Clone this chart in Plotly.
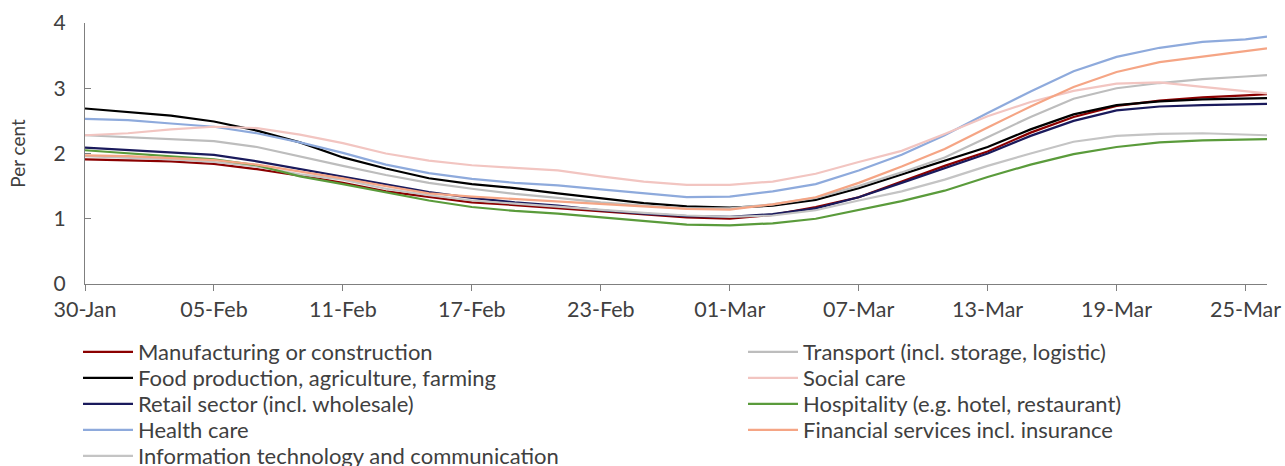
import plotly.graph_objects as go

dates = ["2022-01-30", "2022-02-01", "2022-02-03", "2022-02-05", "2022-02-07", "2022-02-09",
         "2022-02-11", "2022-02-13", "2022-02-15", "2022-02-17", "2022-02-19", "2022-02-21",
         "2022-02-23", "2022-02-25", "2022-02-27", "2022-03-01", "2022-03-03", "2022-03-05",
         "2022-03-07", "2022-03-09", "2022-03-11", "2022-03-13", "2022-03-15", "2022-03-17",
         "2022-03-19", "2022-03-21", "2022-03-23", "2022-03-25", "2022-03-26"]

manufacturing = [1.91, 1.90, 1.88, 1.84, 1.76, 1.66, 1.55, 1.42, 1.33, 1.25, 1.21, 1.16, 1.11, 1.07, 1.02,
                 1.00, 1.06, 1.18, 1.33, 1.57, 1.81, 2.03, 2.32, 2.56, 2.73, 2.81, 2.86, 2.89, 2.91]
food = [2.69, 2.63, 2.58, 2.49, 2.35, 2.17, 1.94, 1.77, 1.62, 1.53, 1.47, 1.39, 1.31, 1.24, 1.19,
        1.17, 1.20, 1.29, 1.47, 1.68, 1.90, 2.10, 2.37, 2.60, 2.74, 2.80, 2.83, 2.84, 2.85]
retail = [2.09, 2.05, 2.02, 1.98, 1.88, 1.76, 1.64, 1.52, 1.41, 1.32, 1.25, 1.20, 1.13, 1.08, 1.04,
          1.03, 1.07, 1.16, 1.33, 1.55, 1.78, 2.00, 2.27, 2.50, 2.66, 2.72, 2.74, 2.75, 2.76]
health = [2.53, 2.51, 2.46, 2.41, 2.31, 2.17, 2.01, 1.83, 1.70, 1.61, 1.55, 1.51, 1.45, 1.39, 1.33,
          1.34, 1.42, 1.53, 1.74, 1.98, 2.28, 2.62, 2.95, 3.26, 3.48, 3.62, 3.71, 3.75, 3.79]
it_comm = [1.96, 1.94, 1.91, 1.87, 1.80, 1.68, 1.60, 1.46, 1.36, 1.28, 1.23, 1.18, 1.13, 1.09, 1.05,
           1.03, 1.05, 1.13, 1.28, 1.42, 1.60, 1.81, 2.00, 2.18, 2.27, 2.30, 2.31, 2.29, 2.28]
transport = [2.28, 2.25, 2.23, 2.19, 2.10, 1.95, 1.81, 1.67, 1.55, 1.46, 1.38, 1.32, 1.25, 1.20, 1.16,
             1.16, 1.22, 1.32, 1.50, 1.71, 1.94, 2.25, 2.56, 2.84, 3.00, 3.08, 3.14, 3.18, 3.20]
social = [2.28, 2.31, 2.37, 2.41, 2.39, 2.29, 2.16, 2.00, 1.89, 1.82, 1.78, 1.74, 1.65, 1.57, 1.52,
          1.52, 1.57, 1.69, 1.87, 2.04, 2.30, 2.57, 2.79, 2.96, 3.07, 3.09, 3.02, 2.95, 2.92]
hospitality = [2.05, 2.00, 1.96, 1.91, 1.82, 1.65, 1.53, 1.40, 1.28, 1.18, 1.12, 1.08, 1.02, 0.96, 0.91,
               0.90, 0.93, 1.00, 1.13, 1.27, 1.43, 1.64, 1.83, 1.99, 2.10, 2.17, 2.20, 2.21, 2.22]
financial = [1.97, 1.96, 1.93, 1.90, 1.83, 1.73, 1.62, 1.50, 1.39, 1.34, 1.30, 1.26, 1.23, 1.18, 1.15,
             1.14, 1.22, 1.33, 1.55, 1.80, 2.07, 2.40, 2.72, 3.02, 3.25, 3.40, 3.49, 3.57, 3.61]

tick_dates = ["2022-01-30", "2022-02-05", "2022-02-11", "2022-02-17", "2022-02-23",
              "2022-03-01", "2022-03-07", "2022-03-13", "2022-03-19", "2022-03-25"]
tick_labels = ["30-Jan", "05-Feb", "11-Feb", "17-Feb", "23-Feb",
               "01-Mar", "07-Mar", "13-Mar", "19-Mar", "25-Mar"]

# (name, values, colour, legend column, legend row)
series = [
    ("Manufacturing or construction", manufacturing, "#8B0000", 0, 0),
    ("Food production, agriculture, farming", food, "#000000", 0, 1),
    ("Retail sector (incl. wholesale)", retail, "#1a1a5c", 0, 2),
    ("Health care", health, "#8eaadc", 0, 3),
    ("Information technology and communication", it_comm, "#c4c4c4", 0, 4),
    ("Transport (incl. storage, logistic)", transport, "#bdbdbd", 1, 0),
    ("Social care", social, "#f2c5c1", 1, 1),
    ("Hospitality (e.g. hotel, restaurant)", hospitality, "#5a9b3b", 1, 2),
    ("Financial services incl. insurance", financial, "#f5a585", 1, 3),
]

font_color = "#404040"
axis_color = "#7f7f7f"

W, H = 1285, 466
ML, MR, MT, MB = 85, 18, 23, 182
plot_w = W - ML - MR
plot_h = H - MT - MB
col_px = [78, 743]           # legend left edge (px) per column
row0_px, row_step = 352, 26  # legend row centre (px) and spacing

fig = go.Figure()
layout_legends = {}
for i, (name, vals, color, col, row) in enumerate(series):
    key = "legend" if i == 0 else f"legend{i + 1}"
    fig.add_trace(go.Scatter(x=dates, y=vals, name=name, mode="lines",
                             line=dict(color=color, width=2.2), legend=key))
    cy = row0_px + row * row_step
    layout_legends[key] = dict(
        x=(col_px[col] - ML) / plot_w, y=(MT + plot_h - cy) / plot_h,
        xanchor="left", yanchor="middle", itemwidth=50,
        font=dict(family="Lato", size=22, color=font_color),
        bgcolor="rgba(0,0,0,0)", borderwidth=0)

fig.update_layout(
    width=W, height=H,
    margin=dict(l=ML, r=MR, t=MT, b=MB, autoexpand=False),
    paper_bgcolor="white", plot_bgcolor="white",
    font=dict(family="Lato", size=20, color=font_color),
    showlegend=True,
    xaxis=dict(range=["2022-01-30", "2022-03-26"], tickvals=tick_dates, ticktext=tick_labels,
               showline=True, linecolor=axis_color, linewidth=1.3, ticks="outside", ticklen=6,
               tickcolor=axis_color, showgrid=False, zeroline=False,
               tickfont=dict(family="Lato", size=21.5, color=font_color)),
    yaxis=dict(range=[0, 4], tickvals=[0, 1, 2, 3, 4], showline=True, linecolor=axis_color,
               linewidth=1.3, ticks="inside", ticklen=6, tickcolor=axis_color, showgrid=False,
               zeroline=False, ticklabelstandoff=14,
               tickfont=dict(family="Lato", size=21, color=font_color),
               title=dict(text="Per cent", font=dict(family="Lato", size=19, color=font_color),
                          standoff=22)),
    **layout_legends,
)

fig.write_html("out.html", config={"displayModeBar": False},
               post_script="document.body.style.margin='0';document.body.style.overflow='hidden';")
